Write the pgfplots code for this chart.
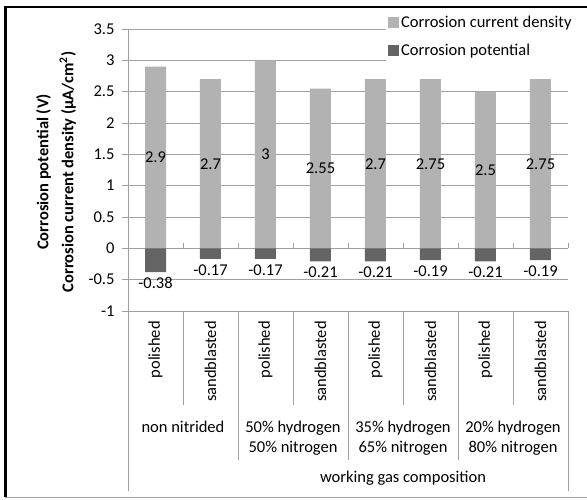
\documentclass[border=0pt]{standalone}
\usepackage{fontspec}
\setmainfont{Carlito}
\usepackage{pgfplots}
\usepackage{pgfplotstable}
\pgfplotsset{compat=1.18}

\definecolor{cdcol}{RGB}{178,178,178}
\definecolor{potcol}{RGB}{100,100,100}
\definecolor{gridcol}{RGB}{160,160,160}

% x: sample index, cd: current density bar, cdlab: printed label,
% pot: corrosion potential
\pgfplotstableread{
x cd   cdlab pot   potlab
0 2.9  2.9   -0.38 -0.38
1 2.7  2.7   -0.17 -0.17
2 3.0  3     -0.17 -0.17
3 2.55 2.55  -0.21 -0.21
4 2.7  2.7   -0.21 -0.21
5 2.7  2.75  -0.19 -0.19
6 2.5  2.5   -0.21 -0.21
7 2.7  2.75  -0.19 -0.19
}\corrdata

\newcommand{\chartfont}{\fontsize{16.5}{20}\selectfont}

\begin{document}
\begin{tikzpicture}
\useasboundingbox (0pt,0pt) rectangle (587pt,499pt);
\begin{axis}[
  at={(128pt,188pt)}, anchor=south west,
  scale only axis, width=440pt, height=282pt,
  xmin=-0.5, xmax=7.5,
  ymin=-1, ymax=3.5,
  ytick={-1,-0.5,0,0.5,1,1.5,2,2.5,3,3.5},
  axis x line=none,
  axis y line=left,
  y axis line style={-, draw=gridcol},
  ymajorgrids=true,
  grid style={gridcol, line width=0.8pt},
  ytick style={draw=gridcol, line width=0.8pt},
  tick align=outside,
  major tick length=6pt,
  /pgf/number format/assume math mode=true,
  yticklabel style={font=\chartfont, xshift=-4pt},
  clip=false,
  legend style={at={(0.586,1.062)}, anchor=north west, draw=none,
    fill=white, font=\chartfont, row sep=11pt, inner sep=2pt,
    legend cell align=left},
  legend image code/.code={\fill[#1] (0pt,-5.5pt) rectangle (11pt,5.5pt);},
]
\addplot[ybar, bar width=21pt, bar shift=0pt, fill=cdcol, draw=none]
  table[x=x, y=cd] {\corrdata};
\addlegendentry{Corrosion current density}
\addplot[ybar, bar width=21pt, bar shift=0pt, fill=potcol, draw=none,
  nodes near coords, point meta=explicit symbolic,
  nodes near coords style={anchor=north, font=\chartfont, yshift=-2pt}]
  table[x=x, y=pot, meta=potlab] {\corrdata};
\addlegendentry{Corrosion potential}
% value labels in the middle of the current density bars
\addplot[draw=none, mark=none, forget plot,
  nodes near coords, point meta=explicit symbolic,
  nodes near coords style={anchor=center, font=\chartfont}]
  table[x=x, y expr=\thisrow{cd}/2, meta=cdlab] {\corrdata};
\end{axis}

\begin{scope}[x=1pt, y=-1pt, yshift=499pt]
  % frame
  \draw[black, line width=2pt] (4,7.5) -- (587,7.5);
  \draw[black, line width=2.5pt] (5.5,7) -- (5.5,497);
  \draw[gridcol, line width=1pt] (5,497.5) -- (587,497.5);
  % ticks on zero line
  \foreach \bx in {128,183,238,293,348,403,458,513,568}
    \draw[gridcol, line width=0.8pt] (\bx,243) -- (\bx,248);
  % category table
  \foreach \bx in {183,293,403,513}
    \draw[gridcol, line width=0.8pt] (\bx,311) -- (\bx,405);
  \foreach \bx in {238,348,458}
    \draw[gridcol, line width=0.8pt] (\bx,311) -- (\bx,460);
  \draw[gridcol, line width=0.8pt] (128,311) -- (128,491);
  \draw[gridcol, line width=0.8pt] (568,311) -- (568,491);
  \foreach \k in {0,2,4,6}
    \node[rotate=90, anchor=east, font=\chartfont, inner sep=0pt]
      at ({155.5+55*\k},321) {polished};
  \foreach \k in {1,3,5,7}
    \node[rotate=90, anchor=east, font=\chartfont, inner sep=0pt]
      at ({155.5+55*\k},321) {sandblasted};
  \node[font=\chartfont] at (183,427) {non nitrided};
  \node[font=\chartfont, align=center] at (293,438) {50\% hydrogen\\50\% nitrogen};
  \node[font=\chartfont, align=center] at (403,438) {35\% hydrogen\\65\% nitrogen};
  \node[font=\chartfont, align=center] at (513,438) {20\% hydrogen\\80\% nitrogen};
  \node[font=\chartfont] at (403,478) {working gas composition};
  % y axis title
  \node[rotate=90, align=center, font={\fontsize{16.5}{25}\selectfont\bfseries}]
    at (56,172) {Corrosion potential (V)\\Corrosion current density (\textmu A/cm\textsuperscript{2})};
\end{scope}
\end{tikzpicture}
\end{document}
